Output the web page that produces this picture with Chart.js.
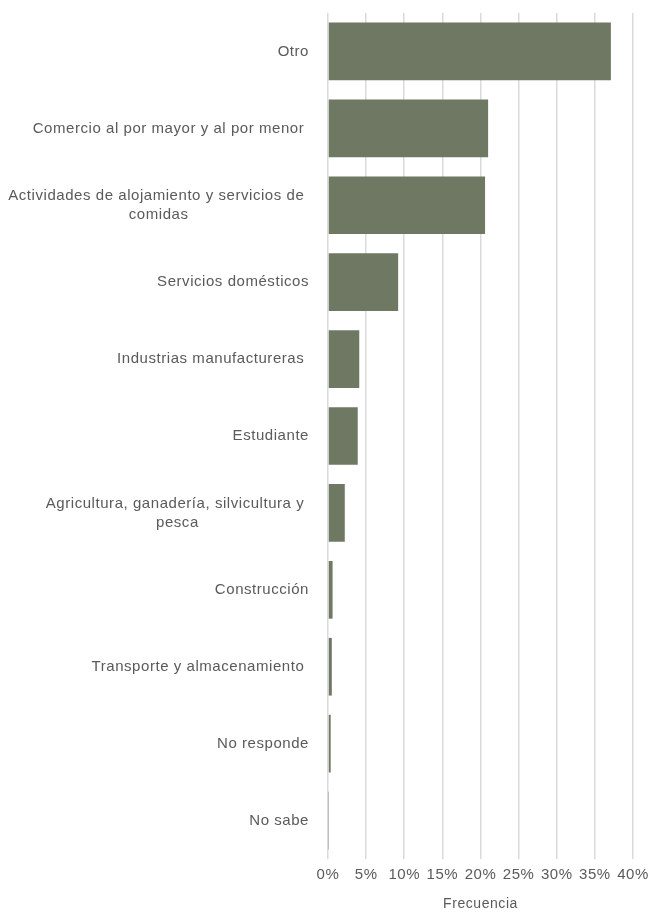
<!DOCTYPE html>
<html>
<head>
<meta charset="utf-8">
<script src="https://cdn.jsdelivr.net/npm/chart.js@4"></script>
<style>
  html, body { margin: 0; padding: 0; background: #fff; }
  #wrap { width: 655px; height: 919px; }
</style>
</head>
<body>
<div id="wrap"><canvas id="myChart"></canvas></div>
<script>
// categories (multi-line ones are already split as in the picture)
var categories = [
    ['Otro'],
    ['Comercio al por mayor y al por menor '],
    ['Actividades de alojamiento y servicios de ', 'comidas'],
    ['Servicios domésticos'],
    ['Industrias manufactureras '],
    ['Estudiante'],
    ['Agricultura, ganadería, silvicultura y ', 'pesca'],
    ['Construcción'],
    ['Transporte y almacenamiento '],
    ['No responde'],
    ['No sabe']
];
// percentage per category
var frecuencia = [37.1, 21.0, 20.6, 9.2, 4.1, 3.9, 2.2, 0.6, 0.5, 0.35, 0.05];
var xTicks = [0, 5, 10, 15, 20, 25, 30, 35, 40];

var textColor = '#5a5a5a';
var fontFamily = '"Liberation Sans", Arial, Helvetica, sans-serif';

// a bit of letter spacing, the original text is wider
var spacingPlugin = {
    id: 'spacing',
    beforeDraw: function (chart) {
        chart.ctx.letterSpacing = '0.55px';
    }
};

// draws y labels right aligned as a block, lines centered inside the block
var yLabelPlugin = {
    id: 'yLabels',
    afterDraw: function (chart) {
        var ctx = chart.ctx;
        var yScale = chart.scales.y;
        ctx.save();
        ctx.letterSpacing = '0.55px';
        ctx.font = '15px ' + fontFamily;
        ctx.fillStyle = textColor;
        ctx.textAlign = 'center';
        ctx.textBaseline = 'middle';
        var rightEdge = yScale.right - 19;
        var lineH = 19;
        for (let i = 0; i < categories.length; i++) {
            let lines = categories[i];
            let w = 0;
            lines.forEach(function (l) { w = Math.max(w, ctx.measureText(l).width); });
            let cx = rightEdge - w / 2;
            let cy = yScale.getPixelForTick(i);
            let y0 = cy - (lines.length - 1) * lineH / 2;
            lines.forEach(function (l, k) {
                ctx.fillText(l, cx, y0 + k * lineH);
            });
        }
        ctx.restore();
    }
};

var masspopChart = new Chart('myChart', {
    type: 'bar',
    data: {
        labels: categories,
        datasets: [{
            label: 'Frecuencia',
            data: frecuencia,
            backgroundColor: '#6f7862',
            borderWidth: 0,
            barPercentage: 0.75,
            categoryPercentage: 1.0
        }]
    },
    options: {
        indexAxis: 'y',
        responsive: true,
        maintainAspectRatio: false,
        animation: false,
        layout: { padding: { top: 13, right: 20, left: 0, bottom: 0 } },
        plugins: {
            legend: { display: false },
            tooltip: { enabled: false }
        },
        scales: {
            x: {
                min: 0,
                max: 40,
                afterBuildTicks: function (axis) {
                    axis.ticks = xTicks.map(function (v) { return { value: v }; });
                },
                grid: { color: '#dadada', lineWidth: 1.5, drawTicks: false },
                border: { display: false },
                ticks: {
                    color: textColor,
                    font: { size: 15, family: fontFamily },
                    padding: 7,
                    maxRotation: 0,
                    autoSkip: false,
                    callback: function (v) { return v + '%'; }
                },
                title: {
                    display: true,
                    text: 'Frecuencia',
                    color: textColor,
                    font: { size: 14, family: fontFamily },
                    padding: { top: 6, bottom: 6 }
                },
                afterFit: function (axis) { axis.height = 60; }
            },
            y: {
                grid: { display: false },
                border: { display: false },
                ticks: { display: false },
                afterFit: function (axis) { axis.width = 328; }
            }
        }
    },
    plugins: [spacingPlugin, yLabelPlugin]
});
</script>
</body>
</html>
